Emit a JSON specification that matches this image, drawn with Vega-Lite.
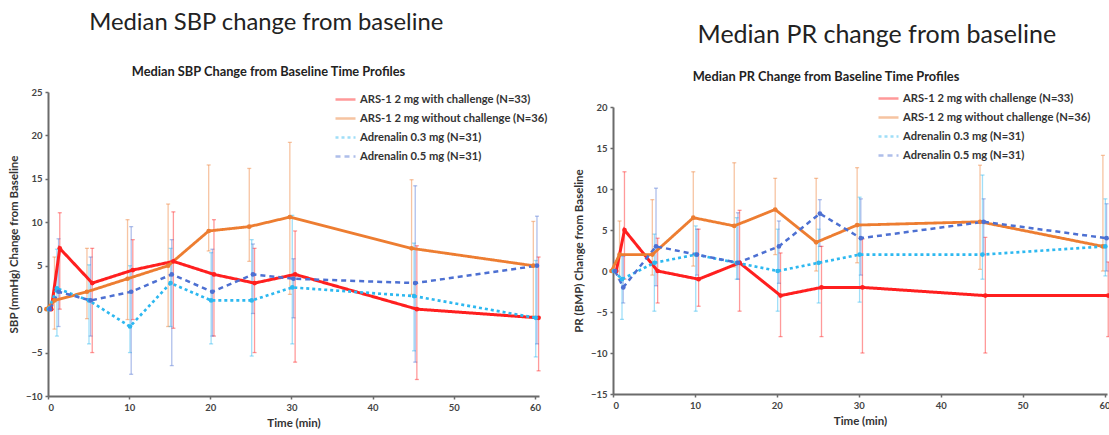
{
  "$schema": "https://vega.github.io/schema/vega-lite/v6.json",
  "padding": {"left": 8, "right": 0, "top": 11, "bottom": 0},
  "background": "white",
  "datasets": {
    "sbp": [
      {"s": "ARS-1 2 mg with challenge (N=33)", "t": 0.4, "m": 0, "lo": null, "hi": null},
      {"s": "ARS-1 2 mg with challenge (N=33)", "t": 1.45, "m": 7.0, "lo": 0, "hi": 11.1},
      {"s": "ARS-1 2 mg with challenge (N=33)", "t": 5.45, "m": 3.0, "lo": -5.0, "hi": 7.0},
      {"s": "ARS-1 2 mg with challenge (N=33)", "t": 10.45, "m": 4.5, "lo": -1.2, "hi": 8.0},
      {"s": "ARS-1 2 mg with challenge (N=33)", "t": 15.45, "m": 5.5, "lo": -2.2, "hi": 11.2},
      {"s": "ARS-1 2 mg with challenge (N=33)", "t": 20.45, "m": 4.0, "lo": -3.1, "hi": 10.3},
      {"s": "ARS-1 2 mg with challenge (N=33)", "t": 25.45, "m": 3.0, "lo": -5.0, "hi": 7.0},
      {"s": "ARS-1 2 mg with challenge (N=33)", "t": 30.45, "m": 4.0, "lo": -6.1, "hi": 9.0},
      {"s": "ARS-1 2 mg with challenge (N=33)", "t": 45.45, "m": 0.0, "lo": -8.1, "hi": 7.3},
      {"s": "ARS-1 2 mg with challenge (N=33)", "t": 60.45, "m": -1.0, "lo": -7.1, "hi": 6.0},
      {"s": "ARS-1 2 mg without challenge (N=36)", "t": -0.2, "m": 0, "lo": null, "hi": null},
      {"s": "ARS-1 2 mg without challenge (N=36)", "t": 0.8, "m": 1.0, "lo": -2.3, "hi": 6.0},
      {"s": "ARS-1 2 mg without challenge (N=36)", "t": 4.8, "m": 2.0, "lo": -1.1, "hi": 7.0},
      {"s": "ARS-1 2 mg without challenge (N=36)", "t": 9.8, "m": 3.5, "lo": -1.2, "hi": 10.3},
      {"s": "ARS-1 2 mg without challenge (N=36)", "t": 14.8, "m": 5.0, "lo": -2.0, "hi": 12.1},
      {"s": "ARS-1 2 mg without challenge (N=36)", "t": 19.8, "m": 9.0, "lo": 6.7, "hi": 16.6},
      {"s": "ARS-1 2 mg without challenge (N=36)", "t": 24.8, "m": 9.5, "lo": 5.5, "hi": 16.2},
      {"s": "ARS-1 2 mg without challenge (N=36)", "t": 29.8, "m": 10.6, "lo": 1.7, "hi": 19.2},
      {"s": "ARS-1 2 mg without challenge (N=36)", "t": 44.8, "m": 7.0, "lo": 1.7, "hi": 14.9},
      {"s": "ARS-1 2 mg without challenge (N=36)", "t": 59.8, "m": 5.0, "lo": -0.8, "hi": 10.1},
      {"s": "Adrenalin 0.3 mg (N=31)", "t": 0.1, "m": 0, "lo": null, "hi": null},
      {"s": "Adrenalin 0.3 mg (N=31)", "t": 1.1, "m": 2.4, "lo": -3.1, "hi": 6.9},
      {"s": "Adrenalin 0.3 mg (N=31)", "t": 5.05, "m": 1.0, "lo": -4.0, "hi": 5.1},
      {"s": "Adrenalin 0.3 mg (N=31)", "t": 10.1, "m": -2.0, "lo": -5.0, "hi": 5.0},
      {"s": "Adrenalin 0.3 mg (N=31)", "t": 15.1, "m": 3.0, "lo": -2.0, "hi": 7.0},
      {"s": "Adrenalin 0.3 mg (N=31)", "t": 20.1, "m": 1.0, "lo": -4.0, "hi": 6.5},
      {"s": "Adrenalin 0.3 mg (N=31)", "t": 25.1, "m": 1.0, "lo": -5.4, "hi": 8.0},
      {"s": "Adrenalin 0.3 mg (N=31)", "t": 30.1, "m": 2.5, "lo": -4.0, "hi": 10.8},
      {"s": "Adrenalin 0.3 mg (N=31)", "t": 45.1, "m": 1.5, "lo": -4.8, "hi": 7.6},
      {"s": "Adrenalin 0.3 mg (N=31)", "t": 60.1, "m": -1.0, "lo": -5.5, "hi": 5.6},
      {"s": "Adrenalin 0.5 mg (N=31)", "t": 0.25, "m": 0, "lo": null, "hi": null},
      {"s": "Adrenalin 0.5 mg (N=31)", "t": 1.3, "m": 2.0, "lo": -2.0, "hi": 8.1},
      {"s": "Adrenalin 0.5 mg (N=31)", "t": 5.25, "m": 1.0, "lo": -3.1, "hi": 6.0},
      {"s": "Adrenalin 0.5 mg (N=31)", "t": 10.25, "m": 2.0, "lo": -7.5, "hi": 9.5},
      {"s": "Adrenalin 0.5 mg (N=31)", "t": 15.25, "m": 4.0, "lo": -6.5, "hi": 8.0},
      {"s": "Adrenalin 0.5 mg (N=31)", "t": 20.25, "m": 2.0, "lo": -3.1, "hi": 6.9},
      {"s": "Adrenalin 0.5 mg (N=31)", "t": 25.25, "m": 4.0, "lo": -0.5, "hi": 7.5},
      {"s": "Adrenalin 0.5 mg (N=31)", "t": 30.25, "m": 3.5, "lo": -1.0, "hi": 5.8},
      {"s": "Adrenalin 0.5 mg (N=31)", "t": 45.25, "m": 3.0, "lo": -6.1, "hi": 14.2},
      {"s": "Adrenalin 0.5 mg (N=31)", "t": 60.25, "m": 5.0, "lo": -4.0, "hi": 10.7}
    ],
    "pr": [
      {"s": "ARS-1 2 mg with challenge (N=33)", "t": 0.4, "m": 0, "lo": null, "hi": null},
      {"s": "ARS-1 2 mg with challenge (N=33)", "t": 1.4, "m": 5.0, "lo": -1.0, "hi": 12.1},
      {"s": "ARS-1 2 mg with challenge (N=33)", "t": 5.45, "m": 0.0, "lo": -3.9, "hi": 4.0},
      {"s": "ARS-1 2 mg with challenge (N=33)", "t": 10.45, "m": -1.0, "lo": -4.3, "hi": 5.1},
      {"s": "ARS-1 2 mg with challenge (N=33)", "t": 15.45, "m": 1.0, "lo": -4.9, "hi": 7.4},
      {"s": "ARS-1 2 mg with challenge (N=33)", "t": 20.45, "m": -3.0, "lo": -8.0, "hi": 2.2},
      {"s": "ARS-1 2 mg with challenge (N=33)", "t": 25.45, "m": -2.0, "lo": -8.0, "hi": 3.0},
      {"s": "ARS-1 2 mg with challenge (N=33)", "t": 30.45, "m": -2.0, "lo": -10.0, "hi": 3.9},
      {"s": "ARS-1 2 mg with challenge (N=33)", "t": 45.45, "m": -3.0, "lo": -10.0, "hi": 4.1},
      {"s": "ARS-1 2 mg with challenge (N=33)", "t": 60.45, "m": -3.0, "lo": -8.0, "hi": 1.1},
      {"s": "ARS-1 2 mg without challenge (N=36)", "t": -0.2, "m": 0, "lo": null, "hi": null},
      {"s": "ARS-1 2 mg without challenge (N=36)", "t": 0.8, "m": 2.0, "lo": -1.0, "hi": 6.1},
      {"s": "ARS-1 2 mg without challenge (N=36)", "t": 4.8, "m": 2.0, "lo": -0.5, "hi": 8.7},
      {"s": "ARS-1 2 mg without challenge (N=36)", "t": 9.8, "m": 6.5, "lo": 0.6, "hi": 12.1},
      {"s": "ARS-1 2 mg without challenge (N=36)", "t": 14.8, "m": 5.5, "lo": 0.5, "hi": 13.2},
      {"s": "ARS-1 2 mg without challenge (N=36)", "t": 19.8, "m": 7.5, "lo": 2.0, "hi": 11.3},
      {"s": "ARS-1 2 mg without challenge (N=36)", "t": 24.8, "m": 3.5, "lo": 0.0, "hi": 11.3},
      {"s": "ARS-1 2 mg without challenge (N=36)", "t": 29.8, "m": 5.6, "lo": 1.0, "hi": 12.6},
      {"s": "ARS-1 2 mg without challenge (N=36)", "t": 44.8, "m": 6.0, "lo": 0.2, "hi": 12.9},
      {"s": "ARS-1 2 mg without challenge (N=36)", "t": 59.8, "m": 3.0, "lo": 0.0, "hi": 14.1},
      {"s": "Adrenalin 0.3 mg (N=31)", "t": 0.1, "m": 0, "lo": null, "hi": null},
      {"s": "Adrenalin 0.3 mg (N=31)", "t": 1.1, "m": -1.0, "lo": -5.9, "hi": 2.0},
      {"s": "Adrenalin 0.3 mg (N=31)", "t": 5.05, "m": 1.0, "lo": -4.9, "hi": 4.5},
      {"s": "Adrenalin 0.3 mg (N=31)", "t": 10.1, "m": 2.0, "lo": -4.9, "hi": 5.5},
      {"s": "Adrenalin 0.3 mg (N=31)", "t": 15.1, "m": 1.0, "lo": -1.0, "hi": 6.5},
      {"s": "Adrenalin 0.3 mg (N=31)", "t": 20.1, "m": 0.0, "lo": -4.9, "hi": 5.1},
      {"s": "Adrenalin 0.3 mg (N=31)", "t": 25.1, "m": 1.0, "lo": -3.9, "hi": 5.1},
      {"s": "Adrenalin 0.3 mg (N=31)", "t": 30.1, "m": 2.0, "lo": -3.8, "hi": 9.0},
      {"s": "Adrenalin 0.3 mg (N=31)", "t": 45.1, "m": 2.0, "lo": -1.0, "hi": 11.7},
      {"s": "Adrenalin 0.3 mg (N=31)", "t": 60.1, "m": 3.0, "lo": -0.6, "hi": 8.8},
      {"s": "Adrenalin 0.5 mg (N=31)", "t": 0.25, "m": 0, "lo": null, "hi": null},
      {"s": "Adrenalin 0.5 mg (N=31)", "t": 1.25, "m": -2.0, "lo": -3.9, "hi": 1.8},
      {"s": "Adrenalin 0.5 mg (N=31)", "t": 5.25, "m": 3.0, "lo": -1.8, "hi": 10.1},
      {"s": "Adrenalin 0.5 mg (N=31)", "t": 10.25, "m": 2.0, "lo": -0.5, "hi": 5.1},
      {"s": "Adrenalin 0.5 mg (N=31)", "t": 15.25, "m": 1.0, "lo": -1.0, "hi": 7.1},
      {"s": "Adrenalin 0.5 mg (N=31)", "t": 20.25, "m": 3.0, "lo": -1.5, "hi": 6.1},
      {"s": "Adrenalin 0.5 mg (N=31)", "t": 25.25, "m": 7.0, "lo": 3.0, "hi": 8.7},
      {"s": "Adrenalin 0.5 mg (N=31)", "t": 30.25, "m": 4.0, "lo": -0.5, "hi": 8.8},
      {"s": "Adrenalin 0.5 mg (N=31)", "t": 45.25, "m": 6.0, "lo": 2.0, "hi": 8.8},
      {"s": "Adrenalin 0.5 mg (N=31)", "t": 60.25, "m": 4.0, "lo": 0.0, "hi": 8.2}
    ]
  },
  "hconcat": [
    {
      "title": {"text": "Median SBP change from baseline", "font": "Lato", "fontSize": 23.8, "fontWeight": "normal", "color": "#222222", "anchor": "middle", "offset": 31, "dx": -12},
      "vconcat": [
        {
          "width": 491,
          "height": 304,
          "title": {"text": "Median SBP Change from Baseline Time Profiles", "font": "Lato", "fontSize": 12.8, "fontWeight": "bold", "color": "#222222", "anchor": "middle", "offset": 8, "dx": -25},
          "encoding": {
            "x": {"field": "t", "type": "quantitative", "scale": {"domain": [0, 60.5], "nice": false, "zero": false}, "axis": {"values": [0, 10, 20, 30, 40, 50, 60], "title": "Time (min)"}}
          },
          "layer": [
            {
              "data": {"name": "sbp"},
              "transform": [{"filter": {"field": "lo", "valid": true}}],
              "mark": {"type": "errorbar", "ticks": {"size": 4}, "thickness": 1.3, "opacity": 0.45},
              "encoding": {
                "y": {"field": "lo", "type": "quantitative", "scale": {"domain": [-10, 25], "nice": false}, "axis": {"values": [-10, -5, 0, 5, 10, 15, 20, 25]}, "title": "SBP (mmHg) Change from Baseline"},
                "y2": {"field": "hi"},
                "color": {"field": "s", "type": "nominal"}
              }
            },
            {
              "data": {"name": "sbp"},
              "mark": {"type": "line"},
              "encoding": {
                "y": {"field": "m", "type": "quantitative", "title": "SBP (mmHg) Change from Baseline"},
                "color": {"field": "s", "type": "nominal", "sort": null,
                  "scale": {"domain": ["ARS-1 2 mg with challenge (N=33)", "ARS-1 2 mg without challenge (N=36)", "Adrenalin 0.3 mg (N=31)", "Adrenalin 0.5 mg (N=31)"], "range": ["#FF1F1F", "#ED7D31", "#2DB8F0", "#4D70D2"]},
                  "legend": {"orient": "none", "legendX": 286, "legendY": -4, "title": null, "symbolType": "stroke", "symbolOpacity": 1}},
                "strokeDash": {"field": "s", "type": "nominal",
                  "scale": {"domain": ["ARS-1 2 mg with challenge (N=33)", "ARS-1 2 mg without challenge (N=36)", "Adrenalin 0.3 mg (N=31)", "Adrenalin 0.5 mg (N=31)"], "range": [[1, 0], [1, 0], [3, 3], [5, 4]]},
                  "legend": {"orient": "none", "legendX": 286, "legendY": -4, "title": null, "symbolType": "stroke", "symbolOpacity": 1}},
                "strokeWidth": {"field": "s", "type": "nominal",
                  "scale": {"domain": ["ARS-1 2 mg with challenge (N=33)", "ARS-1 2 mg without challenge (N=36)", "Adrenalin 0.3 mg (N=31)", "Adrenalin 0.5 mg (N=31)"], "range": [3, 2.5, 3, 2.5]},
                  "legend": null}
              }
            },
            {
              "data": {"name": "sbp"},
              "mark": {"type": "point", "filled": true, "size": 22, "opacity": 1},
              "encoding": {
                "y": {"field": "m", "type": "quantitative", "title": "SBP (mmHg) Change from Baseline"},
                "color": {"field": "s", "type": "nominal"}
              }
            }
          ]
        }
      ]
    },
    {
      "title": {"text": "Median PR change from baseline", "font": "Lato", "fontSize": 25, "fontWeight": "normal", "color": "#222222", "anchor": "middle", "offset": 23, "dx": 33},
      "spacing": 9,
      "vconcat": [
        {
          "width": 494,
          "height": 1,
          "title": {"text": "Median PR Change from Baseline Time Profiles", "font": "Lato", "fontSize": 12.8, "fontWeight": "bold", "color": "#222222", "anchor": "middle", "offset": 8, "dx": -34},
          "data": {"values": []},
          "mark": {"type": "point", "opacity": 0},
          "encoding": {}
        },
        {
          "width": 494,
          "height": 287,
          "encoding": {
            "x": {"field": "t", "type": "quantitative", "scale": {"domain": [0, 60.3], "nice": false, "zero": false}, "axis": {"values": [0, 10, 20, 30, 40, 50, 60], "title": "Time (min)"}}
          },
          "layer": [
            {
              "data": {"name": "pr"},
              "transform": [{"filter": {"field": "lo", "valid": true}}],
              "mark": {"type": "errorbar", "ticks": {"size": 4}, "thickness": 1.3, "opacity": 0.45},
              "encoding": {
                "y": {"field": "lo", "type": "quantitative", "scale": {"domain": [-15, 20], "nice": false}, "axis": {"values": [-15, -10, -5, 0, 5, 10, 15, 20]}, "title": "PR (BMP) Change from Baseline"},
                "y2": {"field": "hi"},
                "color": {"field": "s", "type": "nominal"}
              }
            },
            {
              "data": {"name": "pr"},
              "mark": {"type": "line"},
              "encoding": {
                "y": {"field": "m", "type": "quantitative", "title": "PR (BMP) Change from Baseline"},
                "color": {"field": "s", "type": "nominal", "sort": null,
                  "scale": {"domain": ["ARS-1 2 mg with challenge (N=33)", "ARS-1 2 mg without challenge (N=36)", "Adrenalin 0.3 mg (N=31)", "Adrenalin 0.5 mg (N=31)"], "range": ["#FF1F1F", "#ED7D31", "#2DB8F0", "#4D70D2"]},
                  "legend": {"orient": "none", "legendX": 264, "legendY": -5, "title": null, "symbolType": "stroke", "symbolOpacity": 1}},
                "strokeDash": {"field": "s", "type": "nominal",
                  "scale": {"domain": ["ARS-1 2 mg with challenge (N=33)", "ARS-1 2 mg without challenge (N=36)", "Adrenalin 0.3 mg (N=31)", "Adrenalin 0.5 mg (N=31)"], "range": [[1, 0], [1, 0], [3, 3], [5, 4]]},
                  "legend": {"orient": "none", "legendX": 264, "legendY": -5, "title": null, "symbolType": "stroke", "symbolOpacity": 1}},
                "strokeWidth": {"field": "s", "type": "nominal",
                  "scale": {"domain": ["ARS-1 2 mg with challenge (N=33)", "ARS-1 2 mg without challenge (N=36)", "Adrenalin 0.3 mg (N=31)", "Adrenalin 0.5 mg (N=31)"], "range": [3, 2.5, 3, 2.5]},
                  "legend": null}
              }
            },
            {
              "data": {"name": "pr"},
              "mark": {"type": "point", "filled": true, "size": 22, "opacity": 1},
              "encoding": {
                "y": {"field": "m", "type": "quantitative", "title": "PR (BMP) Change from Baseline"},
                "color": {"field": "s", "type": "nominal"}
              }
            }
          ]
        }
      ]
    }
  ],
  "resolve": {"scale": {"color": "independent", "strokeDash": "independent"}},
  "config": {
    "view": {"stroke": null},
    "concat": {"spacing": 25},
    "axis": {
      "grid": false,
      "domainColor": "#6b6b6b",
      "domainWidth": 2,
      "tickColor": "#6b6b6b",
      "tickWidth": 1.5,
      "tickSize": 3,
      "labelFont": "Lato",
      "labelFontSize": 9.5,
      "labelFontWeight": "bold",
      "labelColor": "#444444",
      "labelPadding": 3,
      "titleFont": "Lato",
      "titleFontSize": 11.5,
      "titleFontWeight": "bold",
      "titleColor": "#333333",
      "titlePadding": 6
    },
    "legend": {
      "labelFont": "Lato",
      "labelFontSize": 11.2,
      "labelFontWeight": "bold",
      "labelColor": "#333333",
      "labelLimit": 300,
      "labelOffset": 3,
      "symbolType": "stroke",
      "symbolSize": 400,
      "symbolStrokeWidth": 2.5,
      "rowPadding": 2
    }
  }
}
